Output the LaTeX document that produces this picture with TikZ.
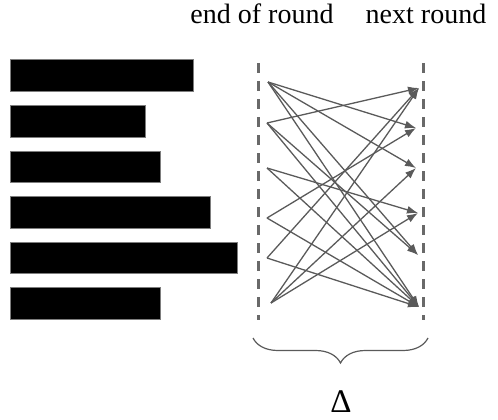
\documentclass[tikz,border=0pt]{standalone}
\usepackage{fontspec}
\setmainfont{Liberation Serif}
\usepackage{tikz}
\usetikzlibrary{arrows.meta,decorations.pathreplacing}
\definecolor{linegrey}{RGB}{90,90,90}
\definecolor{dashgrey}{RGB}{105,105,105}
\definecolor{edgegrey}{RGB}{125,125,125}

\begin{document}
\begin{tikzpicture}[x=1pt, y=-1pt,
    bar/.style={fill=black, draw=edgegrey, line width=1pt},
    roundline/.style={dashgrey, line width=3pt, dash pattern=on 10pt off 8pt},
    msg/.style={linegrey, line width=1.3pt, -{Latex[length=11pt,width=8pt]}},
    roundlabel/.style={font=\fontsize{28}{32}\selectfont, anchor=base}]
    \useasboundingbox (0,0) rectangle (498,420);

    % work done in the round
    \draw[bar] (10,60) rectangle (193,91);
    \draw[bar] (10,105) rectangle (145,137);
    \draw[bar] (10,151) rectangle (160,182);
    \draw[bar] (10,196) rectangle (210,228);
    \draw[bar] (10,242) rectangle (237,273);
    \draw[bar] (10,287) rectangle (160,319);

    % round boundaries
    \draw[roundline] (258,63) -- (258,320);
    \draw[roundline] (423,63) -- (423,320);
    \node[roundlabel] (endround) at (262,24) {end of round};
    \node[roundlabel] (nextround) at (426,24) {next round};

    % senders and receivers
    \coordinate (s1) at (268,82);
    \coordinate (s2) at (267,123);
    \coordinate (s3) at (267,168);
    \coordinate (s4) at (267,218);
    \coordinate (s5) at (267,258);
    \coordinate (s6) at (271,303);
    \coordinate (t1) at (419,88);
    \coordinate (t2) at (416,128);
    \coordinate (t3) at (416,168);
    \coordinate (t4) at (418,213);
    \coordinate (t5) at (418,255);
    \coordinate (t6) at (419,307);

    \draw[msg] (s1) -- (t2);
    \draw[msg] (s1) -- (t3);
    \draw[msg] (s1) -- (t5);
    \draw[msg] (s1) -- (t6);
    \draw[msg] (s2) -- (t1);
    \draw[msg] (s2) -- (t5);
    \draw[msg] (s2) -- (t6);
    \draw[msg] (s3) -- (t4);
    \draw[msg] (s3) -- (t6);
    \draw[msg] (s4) -- (t2);
    \draw[msg] (s4) -- (t6);
    \draw[msg] (s5) -- (t1);
    \draw[msg] (s5) -- (t6);
    \draw[msg] (s6) -- (t1);
    \draw[msg] (s6) -- (t3);
    \draw[msg] (s6) -- (t4);

    % delay between the rounds
    \draw[linegrey, line width=1.2pt, decorate, decoration={brace, mirror, amplitude=25pt}] (253,338) -- (428,338);
    \node[font=\fontsize{33}{38}\selectfont, anchor=base] (delta) at (341,412) {Δ};
\end{tikzpicture}
\end{document}
